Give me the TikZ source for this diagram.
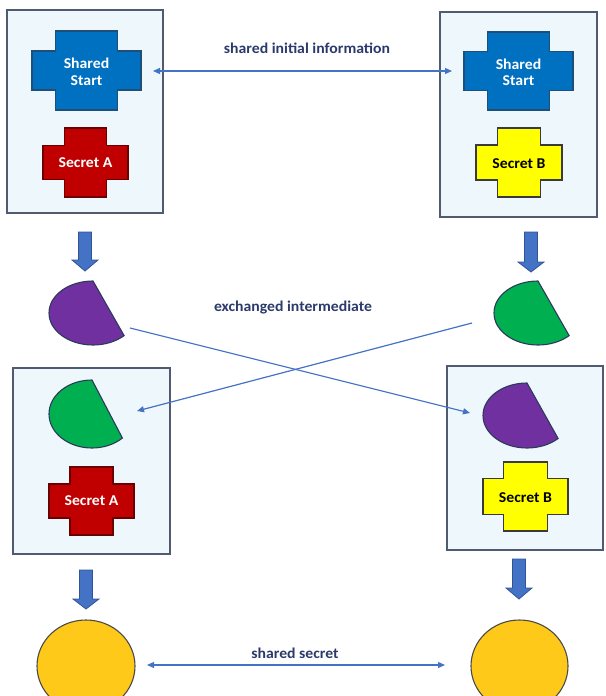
\documentclass[tikz,border=0pt]{standalone}
\usepackage{fontspec}
\setmainfont{Carlito}
\newfontfamily\widecarlito[FakeStretch=1.05]{Carlito}
\usetikzlibrary{arrows.meta,shapes.geometric}

\definecolor{panelfill}{HTML}{EEF7FC}
\definecolor{panelline}{HTML}{505B72}
\definecolor{startblue}{HTML}{0070C0}
\definecolor{startedge}{HTML}{1F4E79}
\definecolor{secretred}{HTML}{C00000}
\definecolor{rededge}{HTML}{6B0000}
\definecolor{secretyellow}{HTML}{FFFF00}
\definecolor{yellowedge}{HTML}{3A3A3A}
\definecolor{halfpurple}{HTML}{7030A0}
\definecolor{halfgreen}{HTML}{00B050}
\definecolor{shapeedge}{HTML}{2B3A5C}
\definecolor{flowblue}{HTML}{4472C4}
\definecolor{flowedge}{HTML}{2F5597}
\definecolor{keygold}{HTML}{FFC91A}
\definecolor{keyedge}{HTML}{4A4A4A}
\definecolor{linkblue}{HTML}{4472C4}
\definecolor{labelblue}{HTML}{2B3A6B}

% plus-shaped block: style, centre x, centre y, outer half width, outer half height,
% half width of the vertical bar, half height of the horizontal bar
\newcommand{\plusat}[7]{%
  \path[#1, shift={(#2,#3)}] (-#6,-#5) -- (#6,-#5) -- (#6,-#7) -- (#4,-#7) -- (#4,#7)
    -- (#6,#7) -- (#6,#5) -- (-#6,#5) -- (-#6,#7) -- (-#4,#7) -- (-#4,-#7) -- (-#6,-#7) -- cycle;}

% chord of an ellipse (cut from the top point to the lower right): style, centre, radii
\newcommand{\chordat}[5]{%
  \path[#1, shift={(#2,#3)}] (90:#4pt and #5pt)
    arc[start angle=90, end angle=315, x radius=#4pt, y radius=#5pt] -- cycle;}

% thick downward block arrow: centre x, top, start of head, tip
\newcommand{\flowarrow}[4]{%
  \path[blockarrow] (#1-6.5,#2) -- (#1+6.5,#2) -- (#1+6.5,#3) -- (#1+13,#3)
    -- (#1,#4) -- (#1-13,#3) -- (#1-6.5,#3) -- cycle;}

\begin{document}
\begin{tikzpicture}[x=1pt, y=-1pt,
  panel/.style={draw=panelline, fill=panelfill, line width=1.2pt, inner sep=0pt},
  startplus/.style={fill=startblue, draw=startedge, line width=1.1pt},
  redplus/.style={fill=secretred, draw=rededge, line width=1.1pt},
  yellowplus/.style={fill=secretyellow, draw=yellowedge, line width=1.1pt},
  purplechord/.style={fill=halfpurple, draw=shapeedge, line width=1.1pt},
  greenchord/.style={fill=halfgreen, draw=shapeedge, line width=1.1pt},
  blockarrow/.style={fill=flowblue, draw=flowedge, line width=0.8pt},
  keyshape/.style={ellipse, fill=keygold, draw=keyedge, line width=1.1pt, inner sep=0pt},
  plustext/.style={font=\widecarlito\bfseries\fontsize{15}{16.5}\selectfont, align=center, inner sep=0pt},
  linklabel/.style={font=\widecarlito\bfseries\fontsize{15}{17}\selectfont, text=labelblue, inner sep=0pt},
  link/.style={draw=linkblue, line width=1.2pt},
  tip/.style={-{Triangle[length=7pt, width=6pt]}},
  tips/.style={{Triangle[length=7pt, width=6pt]}-{Triangle[length=7pt, width=6pt]}}]

\useasboundingbox (0,0) rectangle (605,696);

% four panels
\node[panel, minimum width=156pt, minimum height=203pt] (panelTL) at (85,111.5) {};
\node[panel, minimum width=157pt, minimum height=205pt] (panelTR) at (518.5,114.5) {};
\node[panel, minimum width=157pt, minimum height=186pt] (panelBL) at (91.5,461) {};
\node[panel, minimum width=156pt, minimum height=184pt] (panelBR) at (525,458) {};

% top panels: shared start and the two secrets
\plusat{startplus}{86.5}{70.5}{54.5}{39.5}{31}{19.5}
\node[plustext, text=white] (startA) at (86.5,72) {Shared\\Start};
\plusat{redplus}{85.5}{162.5}{42.5}{34.5}{21}{17}
\node[plustext, text=white] (secretA1) at (85.5,162.5) {Secret A};

\plusat{startplus}{518.5}{71}{54.5}{39}{31}{19.5}
\node[plustext, text=white] (startB) at (518.5,72.5) {Shared\\Start};
\plusat{yellowplus}{519}{162.5}{43}{34.5}{21.5}{17.5}
\node[plustext, text=black] (secretB1) at (519,163.5) {Secret B};

% shared initial information
\coordinate (infoL) at (153,71);
\coordinate (infoR) at (452,71);
\draw[link, tips] (infoL) -- (infoR);
\node[linklabel] (infoText) at (307,48) {shared initial information};

% first steps down
\flowarrow{85}{232}{260}{271}
\flowarrow{531}{232}{262}{272}

% intermediate values
\chordat{purplechord}{93}{313}{44}{32}
\chordat{greenchord}{538}{313}{44}{32}

% exchange of the intermediates
\coordinate (purpleOut) at (130,328);
\coordinate (purpleIn) at (470,413);
\coordinate (greenOut) at (472,323);
\coordinate (greenIn) at (137,411);
\draw[link, tip] (purpleOut) -- (purpleIn);
\draw[link, tip] (greenOut) -- (greenIn);
\node[linklabel] (exchText) at (293,308) {exchanged intermediate};

% bottom panels: received intermediate and own secret
\chordat{greenchord}{92}{414}{43}{34}
\plusat{redplus}{91.5}{501}{42.5}{34}{21.5}{17}
\node[plustext, text=white] (secretA2) at (91.5,501) {Secret A};

\chordat{purplechord}{527}{415.5}{44}{32.5}
\plusat{yellowplus}{525.5}{496.5}{42.5}{34.5}{22}{18}
\node[plustext, text=black] (secretB2) at (525.5,497.5) {Secret B};

% final steps down
\flowarrow{86}{570}{599}{609}
\flowarrow{519}{559}{588}{599}

% resulting shared secret
\node[keyshape, minimum width=98pt, minimum height=92pt] (keyA) at (86,666) {};
\node[keyshape, minimum width=97pt, minimum height=92pt] (keyB) at (519.5,666) {};
\coordinate (secretL) at (147,665);
\coordinate (secretR) at (445,665);
\draw[link, tips] (secretL) -- (secretR);
\node[linklabel] (secretText) at (295,653) {shared secret};

\end{tikzpicture}
\end{document}
